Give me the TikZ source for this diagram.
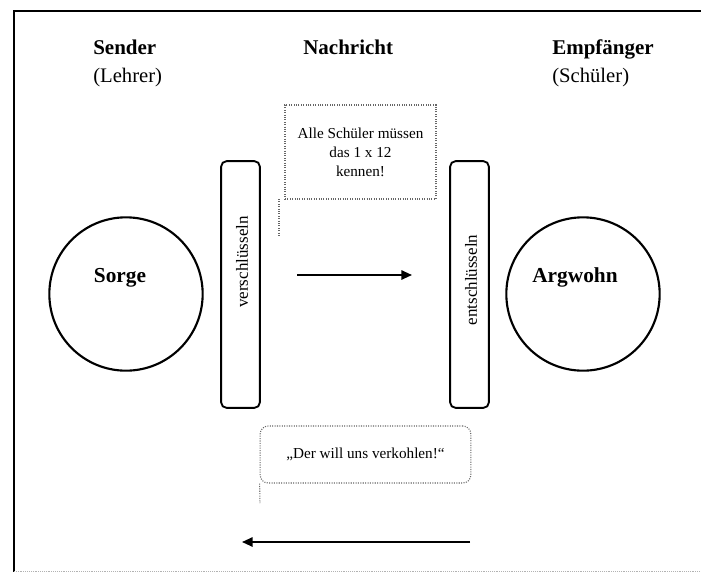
\documentclass[tikz,border=0pt]{standalone}
\usepackage{fontspec}
\setmainfont{Liberation Serif}
\usetikzlibrary{arrows.meta}

\begin{document}
\begin{tikzpicture}[x=0.75pt,y=-0.75pt]
			\tikzstyle{title} = [font=\fontsize{15.75}{18}\selectfont\bfseries, inner sep=0pt, anchor=base west]
			\tikzstyle{role} = [font=\fontsize{15.5}{18}\selectfont, inner sep=0pt, anchor=base west]
			\tikzstyle{mind} = [draw, circle, line width=1.6pt, minimum size=115pt, inner sep=0pt]
			\tikzstyle{feeling} = [font=\fontsize{16}{18}\selectfont\bfseries, inner sep=0pt, anchor=base]
			\tikzstyle{coder} = [draw, rounded corners=4pt, line width=1.4pt, minimum width=29pt, minimum height=185pt, inner sep=0pt]
			\tikzstyle{codetext} = [font=\fontsize{12.75}{14}\selectfont, rotate=90, inner sep=0pt]
			\tikzstyle{message} = [draw=black!60, densely dotted, line width=0.8pt, font=\fontsize{11.4}{14.25}\selectfont, align=center, inner sep=0pt]
			\tikzset{edge/.style = {line width=1.4pt, -{Triangle[length=8pt, width=7pt]}}}
			\tikzset{tail/.style = {draw=black!60, densely dotted, line width=0.8pt}}
			
			\useasboundingbox (0,0) rectangle (701,572);
			\draw[line width=1.2pt] (14,575) -- (14,11) -- (705,11);
			\draw[black!30, densely dotted] (14,571) -- (705,571);
			
			\node[title](sender) at (93,54) {Sender};
			\node[role](teacher) at (93,82) {(Lehrer)};
			\node[title](news) at (303,54) {Nachricht};
			\node[title](receiver) at (552,54) {Empfänger};
			\node[role](pupil) at (552,82) {(Schüler)};
			
			\node[mind](sorge) at (126,294) {};
			\node[feeling](sorgetext) at (120,282) {Sorge};
			\node[mind](argwohn) at (583,294) {};
			\node[feeling](argwohntext) at (575,282) {Argwohn};
			
			\node[coder](encode) at (240.5,284.5) {};
			\node[codetext](encodetext) at (242,262) {verschlüsseln};
			\node[coder](decode) at (469.5,284.5) {};
			\node[codetext](decodetext) at (471,280) {entschlüsseln};
			
			\node[message, minimum width=113.25pt, minimum height=70.5pt](order) at (360.5,152) {Alle Schüler müssen\\das 1 x 12\\kennen!};
			\coordinate (ordertop) at (279,199);
			\coordinate (ordertail) at (279,237);
			\draw[tail](ordertop) -- (ordertail);
			
			\node[message, rounded corners=6pt, minimum width=158pt, minimum height=42.75pt](suspicion) at (365.5,454.5) {„Der will uns verkohlen!“};
			\coordinate (suspiciontail) at (260,503);
			\draw[tail](suspicion.south west) -- (suspiciontail);
			
			\coordinate (sendstart) at (297,275);
			\coordinate (sendend) at (412,275);
			\draw[edge](sendstart) to (sendend);
			
			\coordinate (replystart) at (470,542);
			\coordinate (replyend) at (242,542);
			\draw[edge](replystart) to (replyend);
			
			\end{tikzpicture}
\end{document}
